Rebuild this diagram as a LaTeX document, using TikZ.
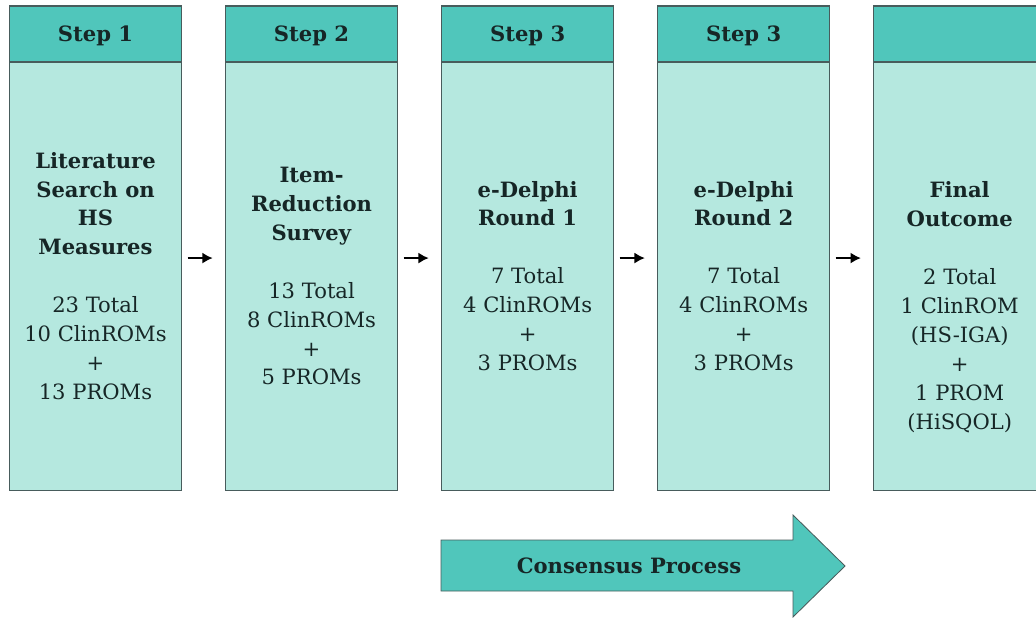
\documentclass[tikz,border=0pt]{standalone}
\usepackage{fontspec}
\setmainfont{DejaVu Serif}
\usetikzlibrary{arrows.meta,positioning}
\definecolor{StepTeal}{RGB}{80,198,187}
\definecolor{StepPale}{RGB}{181,232,223}
\definecolor{StepEdge}{RGB}{72,92,92}
\definecolor{StepInk}{RGB}{22,38,38}

\begin{document}
\begin{tikzpicture}[
    x=0.025cm,y=-0.025cm,
    node distance=1.1cm,
    head/.style={draw=StepEdge,line width=0.8pt,fill=StepTeal,minimum width=4.3cm,minimum height=1.4cm,inner sep=0pt,outer sep=0pt,text=StepInk,text depth=0.9pt,font=\fontsize{15}{20.6}\selectfont\bfseries},
    body/.style={draw=StepEdge,line width=0.8pt,fill=StepPale,minimum width=4.3cm,minimum height=10.7cm,inner sep=0pt,outer sep=0pt},
    txt/.style={align=center,text=StepInk,font=\fontsize{15}{20.6}\selectfont},
    arr/.style={-{Latex[length=2.6mm,width=2.8mm]},line width=1.7pt,draw=black},
    bigarrow/.style={draw=StepEdge,line width=0.6pt,fill=StepTeal}
  ]
  \clip (0,0) rectangle (1036,617);
  % header row
  \node[head] (h1) at (95.5,34) {Step 1};
  \node[head,right=of h1] (h2) {Step 2};
  \node[head,right=of h2] (h3) {Step 3};
  \node[head,right=of h3] (h4) {Step 3};
  \node[head,right=of h4] (h5) {};
  % bodies
  \node[body,below=0pt of h1] (b1) {};
  \node[body,below=0pt of h2] (b2) {};
  \node[body,below=0pt of h3] (b3) {};
  \node[body,below=0pt of h4] (b4) {};
  \node[body,below=0pt of h5] (b5) {};
  \node[txt] (t1) at (b1.center) {\textbf{Literature}\\\textbf{Search on}\\\textbf{HS}\\\textbf{Measures}\\[20.6pt]
    23 Total\\10 ClinROMs\\+\\13 PROMs};
  \node[txt] (t2) at (b2.center) {\textbf{Item-}\\\textbf{Reduction}\\\textbf{Survey}\\[20.6pt]
    13 Total\\8 ClinROMs\\+\\5 PROMs};
  \node[txt] (t3) at (b3.center) {\textbf{e-Delphi}\\\textbf{Round 1}\\[20.6pt]
    7 Total\\4 ClinROMs\\+\\3 PROMs};
  \node[txt] (t4) at (b4.center) {\textbf{e-Delphi}\\\textbf{Round 2}\\[20.6pt]
    7 Total\\4 ClinROMs\\+\\3 PROMs};
  \node[txt] (t5) at ([yshift=-0.78cm]b5.center) {\textbf{Final}\\\textbf{Outcome}\\[20.6pt]
    2 Total\\1 ClinROM\\(HS-IGA)\\+\\1 PROM\\(HiSQOL)};
  % small arrows
  \draw[arr] ([xshift=0.15cm,yshift=0.45cm]b1.east) -- ([xshift=-0.32cm,yshift=0.45cm]b2.west);
  \draw[arr] ([xshift=0.15cm,yshift=0.45cm]b2.east) -- ([xshift=-0.32cm,yshift=0.45cm]b3.west);
  \draw[arr] ([xshift=0.15cm,yshift=0.45cm]b3.east) -- ([xshift=-0.32cm,yshift=0.45cm]b4.west);
  \draw[arr] ([xshift=0.15cm,yshift=0.45cm]b4.east) -- ([xshift=-0.32cm,yshift=0.45cm]b5.west);
  % consensus arrow
  \draw[bigarrow] (441,540) -- (793,540) -- (793,515) -- (845,566) -- (793,617) -- (793,591) -- (441,591) -- cycle;
  \node[txt,font=\fontsize{15}{20.6}\selectfont\bfseries] (cp) at (629,566) {Consensus Process};
\end{tikzpicture}
\end{document}
